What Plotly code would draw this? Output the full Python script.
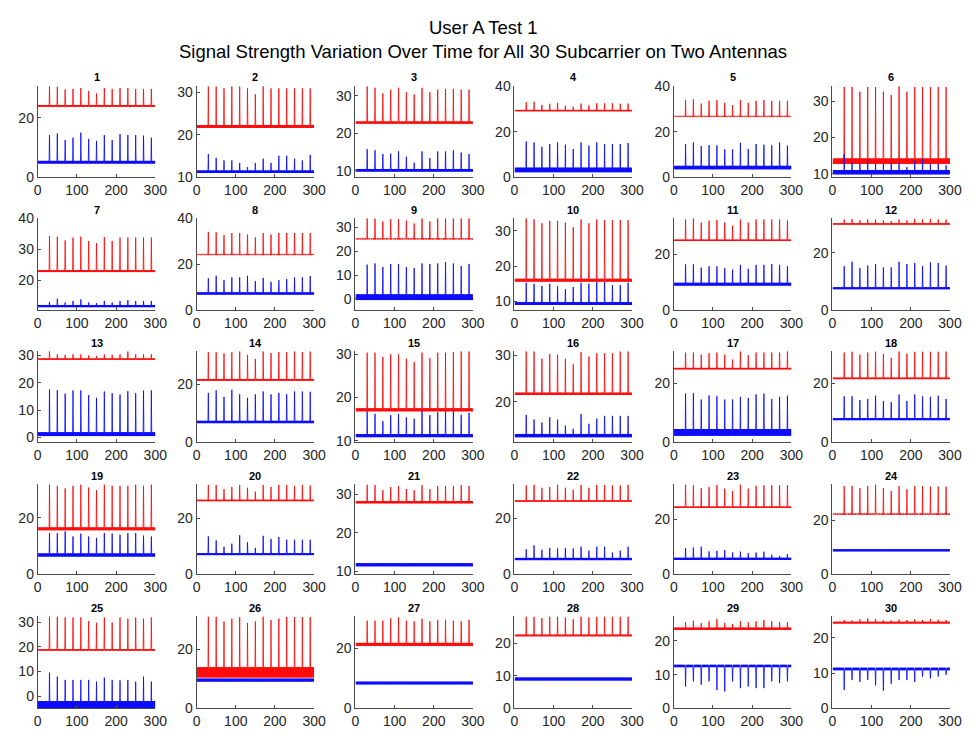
import plotly.graph_objects as go

N = 300
SPIKE_T = [30, 50, 70, 90, 110, 130, 150, 170, 190, 210, 230, 250, 270, 290]

# band (lower, upper) of the noisy baseline, read per subplot
RED_LO = [23.7, 21.6, 22.6, 29.0, 26.5, 12.7, 22.7, 24.0, 25.0, 15.6,
          24.7, 29.7, 28.4, 21.2, 16.8, 21.5, 24.7, 21.4, 15.6, 26.2,
          27.6, 26.0, 24.0, 22.0, 18.5, 10.5, 20.8, 22.2, 23.2, 24.0]
RED_HI = [24.3, 22.3, 23.2, 29.6, 27.0, 14.2, 23.3, 24.5, 25.5, 16.4,
          25.2, 30.2, 28.9, 21.8, 17.5, 22.0, 25.2, 21.9, 16.6, 26.7,
          28.2, 26.5, 24.5, 22.5, 19.1, 14.0, 21.8, 22.7, 23.9, 24.5]
BLUE_LO = [4.6, 10.9, 9.8, 2.2, 3.5, 9.8, 11.4, 6.8, -0.5, 9.0,
           8.8, 7.3, 0.5, 6.6, 10.8, 12.4, 2.2, 7.5, 6.3, 6.9,
           11.3, 5.1, 5.2, 8.5, -5.0, 9.1, 8.0, 8.6, 12.2, 10.8]
BLUE_HI = [5.5, 11.5, 10.5, 4.2, 5.0, 11.0, 12.1, 7.8, 1.9, 9.8,
           9.8, 8.0, 1.9, 7.4, 11.5, 13.1, 4.5, 8.2, 7.4, 7.6,
           12.1, 5.9, 6.0, 9.3, -2.0, 10.1, 8.9, 9.5, 12.9, 11.5]

# spike values at SPIKE_T (None = no spikes)
RED_PEAKS = [
    [30.6, 30.4, 29.5, 29.7, 30.0, 29.0, 28.2, 30.0, 29.7, 30.0, 30.0, 29.7, 29.7, 29.7],
    [31.5, 31.5, 31.0, 31.5, 31.5, 31.0, 29.6, 31.5, 31.0, 31.0, 31.0, 31.0, 31.0, 31.0],
    [32.6, 32.2, 30.7, 31.7, 32.2, 31.0, 30.4, 32.2, 31.0, 31.7, 31.9, 31.9, 31.7, 31.7],
    [33.0, 33.2, 31.8, 32.3, 32.7, 31.5, 31.0, 32.4, 31.6, 32.5, 32.5, 32.5, 32.3, 32.4],
    [33.9, 34.3, 32.4, 33.6, 33.9, 32.7, 31.7, 33.9, 32.7, 33.6, 33.9, 33.5, 33.6, 33.6],
    [34.0, 34.0, 32.7, 34.0, 34.0, 32.7, 31.8, 34.2, 32.7, 34.0, 34.0, 34.0, 34.0, 34.0],
    [34.3, 34.1, 32.9, 33.8, 34.1, 32.7, 32.0, 34.0, 32.7, 33.8, 33.8, 33.8, 33.8, 33.8],
    [34.1, 33.9, 32.7, 33.6, 33.6, 32.9, 31.7, 33.6, 33.0, 33.6, 33.6, 33.6, 33.6, 33.6],
    [33.9, 33.9, 32.6, 33.5, 33.5, 33.0, 31.7, 33.9, 32.6, 33.9, 33.9, 33.9, 33.9, 33.9],
    [33.5, 33.2, 32.1, 32.8, 32.8, 32.3, 31.0, 33.2, 32.1, 33.2, 33.0, 33.0, 33.0, 33.0],
    [32.4, 32.8, 31.3, 32.0, 32.2, 31.3, 30.2, 32.4, 31.3, 32.4, 32.4, 32.4, 32.4, 32.0],
    [31.5, 31.7, 31.2, 31.5, 31.5, 31.2, 30.9, 31.5, 31.2, 31.7, 31.5, 31.7, 31.5, 31.5],
    [31.5, 30.4, 30.2, 30.4, 30.4, 30.0, 29.8, 30.4, 30.2, 30.4, 31.5, 30.4, 30.4, 30.4],
    [31.0, 31.0, 30.6, 31.0, 31.3, 30.1, 28.7, 31.3, 30.7, 31.0, 31.0, 31.3, 31.0, 31.3],
    [30.4, 30.4, 29.4, 30.0, 30.0, 29.0, 28.2, 30.4, 29.1, 30.4, 30.4, 30.5, 30.7, 30.7],
    [30.9, 30.9, 29.3, 30.3, 30.2, 29.3, 28.1, 30.7, 29.8, 30.5, 30.5, 30.5, 30.9, 30.9],
    [30.4, 30.4, 29.7, 30.2, 30.4, 29.7, 28.0, 30.8, 29.5, 30.4, 30.4, 30.4, 30.4, 30.8],
    [30.4, 30.7, 29.7, 30.4, 30.7, 29.9, 28.6, 30.8, 30.0, 30.7, 30.7, 30.7, 30.7, 30.8],
    [31.8, 31.3, 30.4, 31.3, 31.8, 30.7, 29.8, 31.8, 31.3, 31.3, 31.3, 31.8, 31.3, 31.8],
    [32.0, 32.0, 30.5, 31.3, 32.0, 31.0, 29.6, 32.0, 31.3, 32.0, 32.0, 31.7, 32.0, 31.8],
    [32.5, 32.3, 31.0, 31.8, 32.1, 31.3, 31.0, 32.3, 31.3, 32.1, 32.1, 32.1, 32.3, 32.1],
    [31.9, 32.2, 31.0, 31.3, 32.2, 31.0, 30.3, 32.0, 31.0, 32.0, 32.0, 31.8, 31.8, 32.0],
    [32.5, 32.2, 31.1, 31.6, 32.3, 31.0, 30.1, 32.5, 31.0, 32.0, 32.2, 32.2, 32.2, 32.2],
    [32.6, 32.6, 31.8, 32.6, 33.2, 31.8, 30.8, 32.6, 31.4, 32.6, 32.6, 32.4, 32.4, 32.4],
    [32.4, 32.4, 32.0, 32.0, 32.0, 30.5, 29.8, 32.0, 30.0, 32.0, 31.5, 32.0, 31.5, 32.0],
    [31.2, 31.2, 29.5, 30.5, 31.0, 29.0, 29.5, 31.2, 30.0, 30.5, 31.0, 31.0, 31.0, 31.0],
    [29.2, 29.2, 29.2, 30.0, 30.3, 29.2, 29.0, 29.8, 29.0, 29.5, 29.5, 29.2, 29.0, 29.5],
    [28.3, 28.3, 27.8, 28.3, 28.3, 28.0, 27.5, 28.3, 28.0, 28.3, 28.3, 28.3, 28.3, 28.3],
    [25.5, 26.0, 25.2, 25.8, 26.5, 25.3, 25.0, 25.8, 25.5, 25.8, 26.2, 25.8, 25.5, 25.5],
    [25.0, 24.9, 25.2, 25.5, 25.3, 24.9, 24.9, 25.1, 25.0, 25.2, 25.0, 25.3, 25.1, 25.0],
]
BLUE_PEAKS = [
    [14.2, 14.7, 12.5, 13.3, 15.0, 12.9, 12.2, 14.2, 12.5, 14.5, 14.2, 14.2, 14.0, 13.3],
    [15.4, 14.5, 13.9, 13.9, 13.3, 12.3, 13.3, 14.3, 13.3, 15.0, 15.0, 14.3, 13.9, 15.2],
    [15.8, 15.5, 14.5, 14.6, 15.2, 13.8, 12.2, 15.2, 13.4, 15.2, 15.2, 15.5, 14.9, 14.5],
    [15.7, 15.3, 13.4, 14.6, 15.3, 14.3, 12.4, 15.3, 13.9, 15.3, 14.6, 14.6, 14.6, 15.0],
    [14.6, 15.3, 13.7, 14.1, 14.0, 12.3, 12.3, 15.1, 12.4, 14.6, 14.3, 14.0, 15.3, 13.9],
    [15.4, 13.1, 12.7, 14.0, 12.7, 12.7, 13.1, 13.1, 11.8, 13.5, 14.0, 12.7, 12.7, 12.3],
    [13.1, 14.1, 12.9, 13.4, 13.9, 12.9, 12.7, 13.4, 12.9, 13.4, 13.7, 13.4, 13.4, 13.4],
    [13.9, 15.0, 13.1, 14.3, 14.3, 15.0, 12.7, 14.1, 12.4, 13.1, 13.6, 14.3, 14.3, 14.9],
    [14.4, 14.9, 13.4, 14.7, 14.7, 13.4, 13.0, 14.9, 14.7, 14.9, 15.5, 14.9, 13.8, 14.7],
    [15.3, 15.0, 14.4, 15.0, 14.3, 13.5, 14.1, 15.3, 15.0, 15.5, 15.5, 14.6, 14.6, 15.3],
    [16.4, 16.4, 15.2, 15.7, 15.7, 15.0, 14.5, 16.2, 14.8, 16.2, 16.2, 16.5, 16.2, 15.7],
    [15.3, 16.8, 14.6, 15.5, 16.0, 14.9, 14.9, 16.8, 16.0, 16.4, 15.3, 16.6, 16.4, 15.5],
    [17.5, 17.3, 16.0, 17.2, 17.2, 15.5, 14.5, 16.8, 16.2, 15.7, 16.9, 16.2, 17.1, 17.2],
    [17.0, 17.9, 15.6, 18.1, 16.5, 15.3, 16.5, 17.5, 16.5, 17.0, 16.5, 17.5, 17.5, 17.4],
    [16.8, 16.2, 14.5, 15.9, 16.2, 15.4, 15.1, 16.9, 15.9, 16.6, 16.8, 16.8, 16.0, 16.4],
    [17.2, 16.2, 15.6, 16.7, 16.2, 14.9, 14.2, 17.4, 15.3, 16.4, 17.0, 17.0, 17.0, 17.0],
    [16.5, 16.7, 14.5, 15.9, 15.6, 14.5, 14.5, 15.4, 15.0, 16.2, 16.5, 14.7, 15.4, 15.8],
    [15.6, 15.6, 14.3, 14.7, 15.8, 14.0, 13.6, 16.2, 14.0, 16.2, 15.6, 15.4, 15.8, 14.7],
    [14.6, 14.6, 15.2, 13.4, 14.4, 13.4, 12.9, 14.6, 14.4, 14.0, 14.6, 14.6, 13.7, 13.4],
    [13.6, 12.2, 9.9, 11.0, 14.0, 11.5, 9.5, 13.8, 12.7, 13.4, 12.4, 12.4, 12.4, 12.4],
    None,
    [9.0, 10.4, 8.8, 9.5, 9.3, 9.5, 9.3, 9.9, 8.5, 9.9, 9.9, 7.8, 8.5, 9.9],
    [9.5, 9.7, 10.0, 8.3, 8.5, 8.8, 7.9, 8.2, 7.7, 7.9, 8.2, 7.1, 6.7, 7.3],
    None,
    [9.5, 7.9, 6.6, 6.6, 6.6, 6.6, 5.9, 7.5, 6.6, 6.4, 6.6, 5.9, 7.9, 5.9],
    None,
    None,
    None,
    [6.5, 8.0, 7.0, 8.0, 5.4, 5.0, 8.0, 6.0, 6.5, 6.0, 6.0, 8.0, 7.5, 8.0],
    [5.2, 8.0, 7.5, 8.0, 6.5, 5.0, 7.0, 8.0, 8.0, 7.5, 9.0, 8.5, 9.0, 9.5],
]

Y_RANGE = [
    [0, 30.6], [9.9, 31.5], [8.3, 32.6], [0, 40], [0, 40], [9, 34.2],
    [10.4, 40], [0, 40], [-4.8, 33.9], [7.5, 33.5], [0, 32.8], [0, 31.9],
    [-1.8, 31.5], [0, 31.3], [9.6, 30.7], [11.3, 30.9], [0, 30.8], [0, 30.8],
    [0, 31.8], [0, 32.2], [9.2, 32.5], [0, 32.2], [0, 32.5], [0, 33.2],
    [-5, 32.4], [0, 31.2], [0, 30.6], [0, 28.3], [0, 27.2], [0, 26],
]
Y_TICKS = [
    [0, 20], [10, 20, 30], [10, 20, 30], [0, 20, 40], [0, 20, 40], [10, 20, 30],
    [20, 30, 40], [0, 20, 40], [0, 10, 20, 30], [10, 20, 30], [0, 20], [0, 20],
    [0, 10, 20, 30], [0, 20], [10, 20, 30], [20, 30], [0, 20], [0, 20],
    [0, 20], [0, 20], [10, 20, 30], [0, 20], [0, 20], [0, 20],
    [0, 10, 20, 30], [0, 20], [0, 20], [0, 10, 20], [0, 10, 20], [0, 10, 20],
]
X_TICKS = [0, 100, 200, 300]
SUB_TITLES = [str(i + 1) for i in range(30)]
TITLE_1 = "User A Test 1"
TITLE_2 = "Signal Strength Variation Over Time for All 30 Subcarrier on Two Antennas"

W, H = 974, 735
COL_LEFT = [34.3, 195.8, 357.3, 519.0, 681.0, 842.3]
COL_W = 119.5
ROW_TOP = [80, 215, 351, 487, 622]
ROW_BOT = [173, 309, 444, 579, 716]

t = list(range(1, N + 1))


def build(lo, hi, peaks):
    y = [hi if i % 2 else lo for i in range(N)]
    if peaks is not None:
        for ts, p in zip(SPIKE_T, peaks):
            y[ts - 1] = p
    return y


fig = go.Figure()
font_fam = "Liberation Sans, Arial, Helvetica, sans-serif"
axcol = "#4a4a4a"
annotations = []
for k in range(30):
    r, c = divmod(k, 6)
    sfx = "" if k == 0 else str(k + 1)
    xa, ya = "x" + sfx, "y" + sfx
    fig.add_trace(go.Scatter(x=t, y=build(RED_LO[k], RED_HI[k], RED_PEAKS[k]),
                             mode="lines", line=dict(color="#FF0000", width=0.8),
                             xaxis=xa, yaxis=ya, showlegend=False, hoverinfo="skip"))
    fig.add_trace(go.Scatter(x=t, y=build(BLUE_LO[k], BLUE_HI[k], BLUE_PEAKS[k]),
                             mode="lines", line=dict(color="#0000FF", width=0.8),
                             xaxis=xa, yaxis=ya, showlegend=False, hoverinfo="skip"))
    x0 = COL_LEFT[c] / W
    x1 = (COL_LEFT[c] + COL_W) / W
    y0 = 1 - ROW_BOT[r] / H
    y1 = 1 - ROW_TOP[r] / H
    common = dict(showline=True, linecolor=axcol, linewidth=1, ticks="inside",
                  ticklen=3, tickcolor=axcol, showgrid=False, zeroline=False,
                  tickfont=dict(size=14, color="#262626", family=font_fam),
                  mirror=False, fixedrange=True)
    fig.layout["xaxis" + sfx] = dict(domain=[x0, x1], anchor=ya, range=[0, 300],
                                     tickvals=X_TICKS, **common)
    fig.layout["yaxis" + sfx] = dict(domain=[y0, y1], anchor=xa, range=Y_RANGE[k],
                                     tickvals=Y_TICKS[k], **common)
    annotations.append(dict(text="<b>" + SUB_TITLES[k] + "</b>", x=(x0 + x1) / 2,
                            y=1 - (ROW_TOP[r] - 9) / H, xref="paper", yref="paper",
                            xanchor="center", yanchor="middle", showarrow=False,
                            font=dict(size=11, color="#000000", family=font_fam)))

annotations.append(dict(text=TITLE_1, x=0.5, y=1 - 20 / H, xref="paper", yref="paper",
                        xanchor="center", yanchor="middle", showarrow=False,
                        font=dict(size=18.5, color="#000000", family=font_fam)))
annotations.append(dict(text=TITLE_2, x=0.5, y=1 - 44 / H, xref="paper", yref="paper",
                        xanchor="center", yanchor="middle", showarrow=False,
                        font=dict(size=18.5, color="#000000", family=font_fam)))

fig.update_layout(width=W, height=H, margin=dict(l=0, r=0, t=0, b=0),
                  paper_bgcolor="white", plot_bgcolor="white",
                  annotations=annotations, showlegend=False)

fig.write_html("out.html", config={"displayModeBar": False})
